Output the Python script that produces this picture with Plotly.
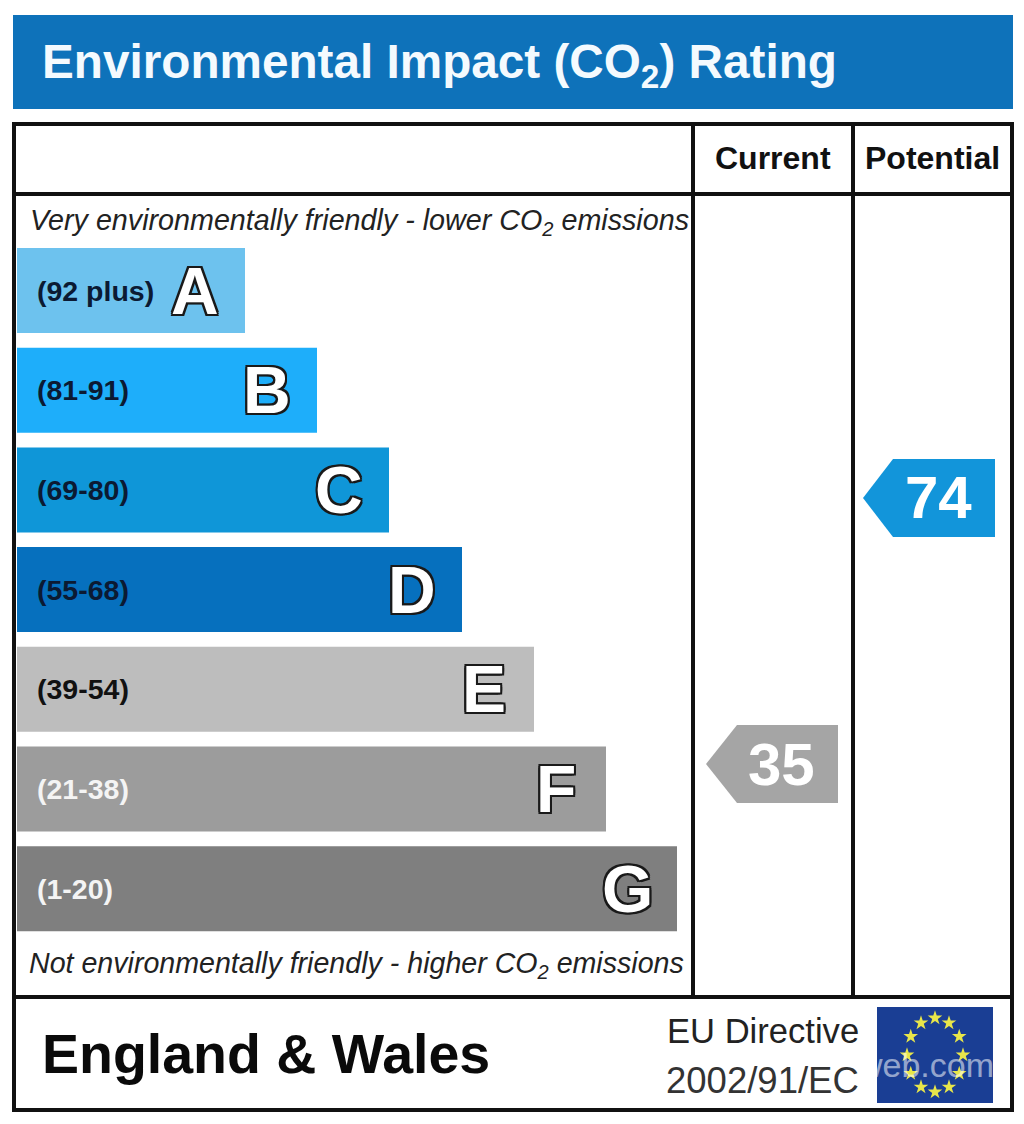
import numpy as np
import plotly.graph_objects as go

W = 1024
H = 1124

bands = ['A', 'B', 'C', 'D', 'E', 'F', 'G']
ranges = ['(92 plus)', '(81-91)', '(69-80)', '(55-68)', '(39-54)', '(21-38)', '(1-20)']
band_lengths = [228, 300, 372, 445, 517, 589, 660]
band_colors = ['#6DC2EE', '#1EAEFA', '#0F96D8', '#0670BE', '#BDBDBD', '#9C9C9C', '#7F7F7F']
range_colors = ['#0B1A33', '#0B1A33', '#0B1A33', '#0B1A33', '#111111', '#F4F4F4', '#F4F4F4']
current_rating = 35
potential_rating = 74

SANS = 'Liberation Sans'
OUTLINE = ', '.join(f'{dx}px {dy}px 0 #1a1a1a' for dx in (-2, 0, 2) for dy in (-2, 0, 2) if dx or dy)


def px(x):
    return x / W


def py(y):
    return 1 - y / H


def rect(x0, y0, x1, y1, fill=None, line=None, width=0):
    return dict(type='rect', xref='paper', yref='paper', x0=px(x0), x1=px(x1), y0=py(y0), y1=py(y1),
                fillcolor=fill, line=dict(color=line, width=width), layer='below')


def hline(x0, x1, y):
    return dict(type='line', xref='paper', yref='paper', x0=px(x0), x1=px(x1), y0=py(y), y1=py(y),
                line=dict(color='#111111', width=4), layer='below')


def vline(x, y0, y1):
    return dict(type='line', xref='paper', yref='paper', x0=px(x), x1=px(x), y0=py(y0), y1=py(y1),
                line=dict(color='#111111', width=4), layer='below')


def pointer(tip, shoulder, right, top, bottom, color):
    mid = (top + bottom) / 2
    path = (f'M {px(tip)} {py(mid)} L {px(shoulder)} {py(top)} L {px(right)} {py(top)} '
            f'L {px(right)} {py(bottom)} L {px(shoulder)} {py(bottom)} Z')
    return dict(type='path', xref='paper', yref='paper', path=path, fillcolor=color,
                line=dict(width=0), layer='below')


def label(x, y, text, size, color='#111111', anchor='left', **font):
    return dict(xref='paper', yref='paper', x=px(x), y=py(y), text=text, showarrow=False,
                xanchor=anchor, yanchor='middle', align=anchor, borderpad=0,
                font=dict(family=SANS, size=size, color=color, **font))


fig = go.Figure()

fig.add_trace(go.Bar(
    y=bands, x=band_lengths, orientation='h',
    marker=dict(color=band_colors, line=dict(width=0)),
    hoverinfo='skip',
))

# EU flag stars
angles = np.deg2rad(np.arange(0, 360, 30))
fig.add_trace(go.Scatter(
    x=935 + 28 * np.sin(angles), y=1055 - 37 * np.cos(angles),
    xaxis='x2', yaxis='y2', mode='markers',
    marker=dict(symbol='star', size=11, color='#E8E64A', line=dict(width=0)),
    hoverinfo='skip',
))

shapes = [
    rect(13, 15, 1013, 109, fill='#0E72BA'),
    rect(14, 124, 1012, 1110, fill='#FFFFFF', line='#111111', width=4),
    hline(14, 1012, 194),
    hline(14, 1012, 997),
    vline(693, 124, 997),
    vline(853, 124, 997),
    pointer(863, 893, 995, 459, 537, '#1295DA'),
    pointer(706, 737, 838, 725, 803, '#A5A5A5'),
    rect(877, 1007, 993, 1103, fill='#1A3E94'),
]

annotations = [
    label(41, 65, 'Environmental Impact (CO<sub>2</sub>) Rating', 47.7, color='#F4FAFE', weight='bold'),
    label(773, 158, 'Current', 32, anchor='center', weight='bold'),
    label(932, 158, 'Potential', 32, anchor='center', weight='bold'),
    label(29, 222, 'Very environmentally friendly - lower CO<sub>2</sub> emissions', 28.7, color='#222222', style='italic'),
    label(28, 965, 'Not environmentally friendly - higher CO<sub>2</sub> emissions', 28.6, color='#222222', style='italic'),
    label(41, 1054, 'England &amp; Wales', 55.5, color='#0A0A0A', weight='bold'),
    label(860, 1031, 'EU Directive', 34.6, color='#222222', anchor='right'),
    label(860, 1080, '2002/91/EC', 36.5, color='#333333', anchor='right'),
    label(938, 498, str(potential_rating), 60, color='#FFFFFF', anchor='center', weight='bold'),
    label(781, 764, str(current_rating), 60, color='#FFFFFF', anchor='center', weight='bold'),
    label(995, 1065, 'web.com', 34, color='rgba(255,255,255,0.55)', anchor='right'),
]

for band, rng, length, col in zip(bands, ranges, band_lengths, range_colors):
    annotations.append(dict(xref='paper', yref='y', x=px(35), y=band, text=rng, showarrow=False,
                            xanchor='left', yanchor='middle',
                            font=dict(family=SANS, size=28.5, color=col, weight='bold')))
    annotations.append(dict(xref='x', yref='y', x=length, y=band, text=band, showarrow=False,
                            xanchor='center', yanchor='middle', xshift=-50,
                            font=dict(family=SANS, size=66, color='#FFFFFF', weight='bold', shadow=OUTLINE)))

fig.update_layout(
    width=W, height=H,
    margin=dict(l=0, r=0, t=0, b=0),
    paper_bgcolor='#FFFFFF', plot_bgcolor='rgba(0,0,0,0)',
    showlegend=False, bargap=0.147,
    shapes=shapes, annotations=annotations,
    xaxis=dict(domain=[px(17), px(677)], range=[0, 660], visible=False),
    yaxis=dict(domain=[py(938.5), py(240.7)], type='category', categoryorder='array',
               categoryarray=bands, autorange='reversed', visible=False),
    xaxis2=dict(domain=[0, 1], range=[0, W], visible=False, anchor='y2'),
    yaxis2=dict(domain=[0, 1], range=[H, 0], visible=False, anchor='x2'),
)

fig.write_html('out.html', config={'displayModeBar': False},
               post_script="document.body.style.margin='0';document.body.style.overflow='hidden';")
